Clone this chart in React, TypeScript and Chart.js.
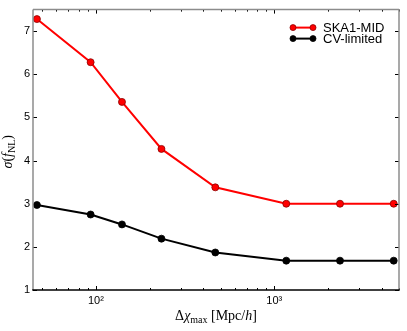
import React, { useEffect, useRef } from 'react';
import { Chart, registerables } from 'chart.js';

Chart.register(...registerables);

const deltaChiMax = [46.7, 93.4, 140, 233, 467, 1167, 2335, 4670];
const ska1Mid = [7.28, 6.28, 5.36, 4.27, 3.38, 3.0, 3.0, 3.0];
const cvLimited = [2.97, 2.75, 2.52, 2.19, 1.87, 1.68, 1.68, 1.68];
const seriesLabels = ['SKA1-MID', 'CV-limited'];
const seriesColors = ['#ff0000', '#000000'];
const markerEdges = ['#8b0000', '#000000'];
const xTickLabels: Record<number, string> = { 100: '10\u00b2', 1000: '10\u00b3' };
const yTickValues = [1, 2, 3, 4, 5, 6, 7];

const SANS = '"Liberation Sans", Arial, sans-serif';
const SERIF = '"Liberation Serif", "DejaVu Serif", serif';

type Part = { t: string; font: string; dy?: number };

function drawParts(ctx: CanvasRenderingContext2D, parts: Part[], cx: number, baseline: number) {
  let total = 0;
  parts.forEach((p) => {
    ctx.font = p.font;
    total += ctx.measureText(p.t).width;
  });
  let x = cx - total / 2;
  ctx.textBaseline = 'alphabetic';
  ctx.textAlign = 'left';
  parts.forEach((p) => {
    ctx.font = p.font;
    ctx.fillText(p.t, x, baseline + (p.dy || 0));
    x += ctx.measureText(p.t).width;
  });
}

const decorPlugin = {
  id: 'decor',
  afterDraw(chart: any) {
    const { ctx, chartArea: a, scales } = chart;
    const xs = scales.x;
    const ys = scales.y;
    ctx.save();
    // tick marks (inward)
    ctx.strokeStyle = '#000';
    ctx.lineWidth = 1;
    const seg = (x1: number, y1: number, x2: number, y2: number) => {
      ctx.beginPath();
      ctx.moveTo(x1, y1);
      ctx.lineTo(x2, y2);
      ctx.stroke();
    };
    for (let e = 1; e <= 3; e++) {
      for (let s = 1; s <= 9; s++) {
        const v = s * Math.pow(10, e);
        if (v < xs.min || v > xs.max) continue;
        const px = Math.round(xs.getPixelForValue(v)) + 0.5;
        const len = s === 1 ? 4 : 2;
        seg(px, a.bottom, px, a.bottom - len);
        seg(px, a.top, px, a.top + len);
      }
    }
    yTickValues.forEach((v) => {
      const py = Math.round(ys.getPixelForValue(v)) + 0.5;
      seg(a.left, py, a.left + 4, py);
      seg(a.right, py, a.right - 4, py);
    });
    // frame
    ctx.lineWidth = 1.5;
    ctx.strokeStyle = '#8c8c8c';
    seg(a.left, a.bottom, a.left, a.top);
    seg(a.left, a.top, a.right, a.top);
    seg(a.right, a.top, a.right, a.bottom);
    ctx.strokeStyle = '#000';
    seg(a.left - 0.75, a.bottom, a.right + 0.75, a.bottom);

    // legend
    const lx1 = a.right - 106;
    const lx2 = a.right - 86;
    chart.data.datasets.forEach((ds: any, i: number) => {
      const y = a.top + 18 + i * 11;
      ctx.strokeStyle = seriesColors[i];
      ctx.lineWidth = 2;
      seg(lx1, y, lx2, y);
      [lx1, lx2].forEach((px) => {
        ctx.beginPath();
        ctx.arc(px, y, 3, 0, Math.PI * 2);
        ctx.fillStyle = seriesColors[i];
        ctx.fill();
        ctx.lineWidth = 0.8;
        ctx.strokeStyle = markerEdges[i];
        ctx.stroke();
      });
      ctx.fillStyle = '#000';
      ctx.font = `13px ${SANS}`;
      ctx.textAlign = 'left';
      ctx.textBaseline = 'middle';
      ctx.fillText(ds.label, a.right - 76, y + 0.5);
    });

    // axis titles
    ctx.fillStyle = '#000';
    drawParts(
      ctx,
      [
        { t: '\u0394', font: `14px ${SERIF}` },
        { t: '\u03c7', font: `italic 14px ${SERIF}` },
        { t: 'max', font: `10px ${SERIF}`, dy: 3 },
        { t: ' [Mpc/', font: `14px ${SERIF}` },
        { t: 'h', font: `italic 14px ${SERIF}` },
        { t: ']', font: `14px ${SERIF}` },
      ],
      (a.left + a.right) / 2,
      320
    );
    ctx.save();
    ctx.translate(12, (a.top + a.bottom) / 2 + 2);
    ctx.rotate(-Math.PI / 2);
    drawParts(
      ctx,
      [
        { t: '\u03c3', font: `italic 14px ${SERIF}` },
        { t: '(', font: `14px ${SERIF}` },
        { t: 'f', font: `italic 14px ${SERIF}` },
        { t: 'NL', font: `10px ${SERIF}`, dy: 3 },
        { t: ')', font: `14px ${SERIF}` },
      ],
      0,
      0
    );
    ctx.restore();
    ctx.restore();
  },
};

export default function App() {
  const ref = useRef<HTMLCanvasElement>(null);
  useEffect(() => {
    document.body.style.margin = '0';
    const canvas = ref.current!;
    const chart = new Chart(canvas, {
      type: 'line',
      data: {
        datasets: [ska1Mid, cvLimited].map((vals, i) => ({
          label: seriesLabels[i],
          data: deltaChiMax.map((x, j) => ({ x, y: vals[j] })),
          borderColor: seriesColors[i],
          backgroundColor: seriesColors[i],
          borderWidth: 2,
          pointRadius: 3.5,
          pointBackgroundColor: seriesColors[i],
          pointBorderColor: markerEdges[i],
          pointBorderWidth: 0.8,
          tension: 0,
          clip: false,
        })),
      },
      options: {
        responsive: false,
        animation: false,
        layout: { padding: { top: 5, right: 8, left: 0, bottom: 0 } },
        plugins: { legend: { display: false }, tooltip: { enabled: false } },
        scales: {
          x: {
            type: 'logarithmic',
            min: 44.4,
            max: 5000,
            grid: { display: false, drawTicks: false },
            border: { display: false },
            afterFit: (s: any) => {
              s.height = 41;
            },
            ticks: {
              autoSkip: false,
              maxRotation: 0,
              padding: 4,
              color: '#000',
              font: { family: SANS, size: 11 },
              callback: (v: any) => xTickLabels[Math.round(Number(v))] ?? '',
            },
          },
          y: {
            type: 'linear',
            min: 1,
            max: 7.5,
            grid: { display: false, drawTicks: false },
            border: { display: false },
            afterFit: (s: any) => {
              s.width = 33;
            },
            ticks: {
              stepSize: 1,
              includeBounds: false,
              padding: 3,
              color: '#000',
              font: { family: SANS, size: 11 },
            },
          },
        },
      },
      plugins: [decorPlugin],
    } as any);
    return () => chart.destroy();
  }, []);
  return (
    <div style={{ width: 407, height: 331 }}>
      <canvas ref={ref} width={407} height={331} />
    </div>
  );
}
